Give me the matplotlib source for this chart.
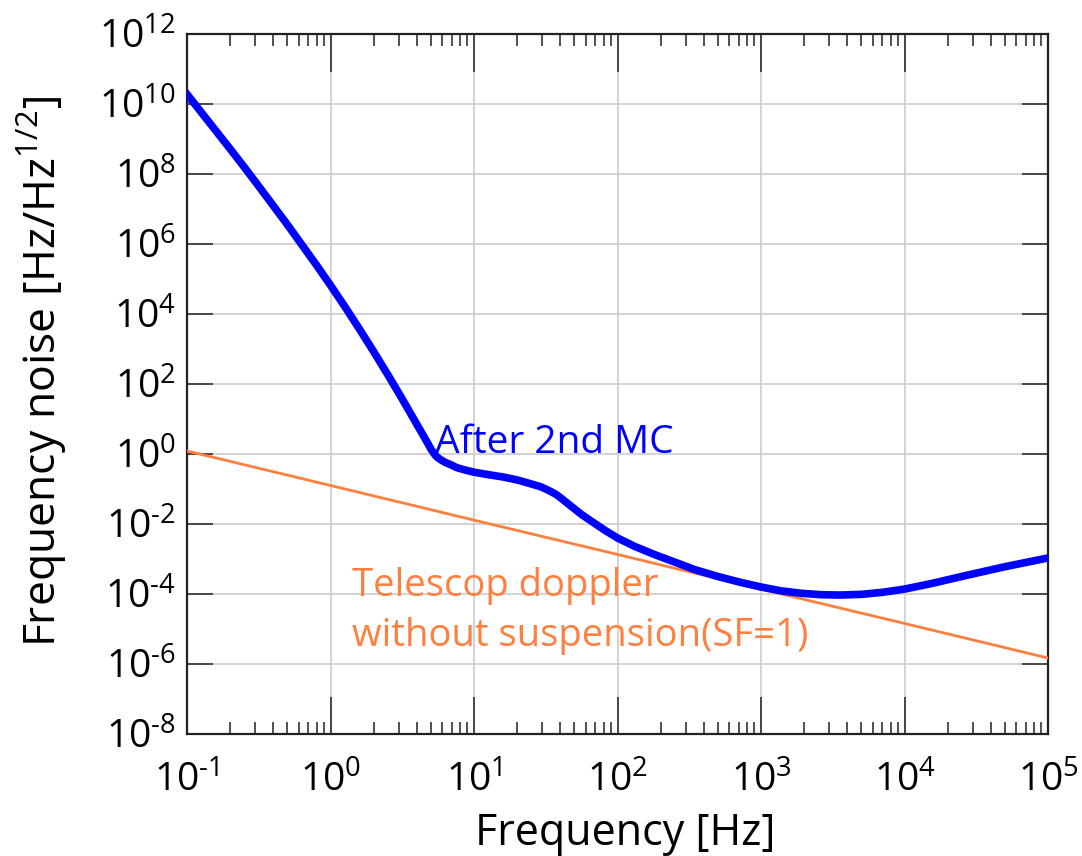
import numpy as np
import matplotlib
matplotlib.use("Agg")
import matplotlib.pyplot as plt
from matplotlib.ticker import LogLocator, FixedLocator, NullLocator

# ---- data (log10 units) ----
blue_logf = [-1.0, -0.9, -0.8, -0.7, -0.6, -0.5, -0.4, -0.3, -0.2, -0.1, 0.0,
             0.1, 0.2, 0.3, 0.4, 0.5, 0.6, 0.68, 0.70, 0.72,
             0.74, 0.77, 0.80, 0.84, 0.88, 0.94, 1.0, 1.1, 1.207, 1.3, 1.394, 1.46,
             1.5, 1.534, 1.57, 1.6, 1.64, 1.673, 1.75, 1.836, 1.92, 2.0, 2.12, 2.256,
             2.4, 2.536, 2.7, 2.85, 3.0, 3.14, 3.28, 3.42, 3.55, 3.7, 3.85, 4.0, 4.2,
             4.44, 4.7, 5.0]
blue_logy = [10.28, 9.76, 9.24, 8.72, 8.19, 7.65, 7.10, 6.55, 5.98, 5.41, 4.82,
             4.21, 3.58, 2.93, 2.26, 1.57, 0.86, 0.29, 0.14, 0.02,
             -0.08, -0.17, -0.24, -0.31, -0.39, -0.46, -0.52, -0.59, -0.66, -0.74, -0.85, -0.93,
             -1.00, -1.07, -1.15, -1.24, -1.37, -1.48, -1.73, -1.97, -2.20, -2.40, -2.64, -2.87,
             -3.09, -3.30, -3.50, -3.66, -3.80, -3.91, -3.98, -4.02, -4.03, -4.01, -3.95, -3.86, -3.69,
             -3.46, -3.22, -2.97]
orange_f = [0.1, 1, 10, 100, 1e3, 1e4, 1e5]
orange_y = [1.22, 0.126, 0.0129, 1.35e-3, 1.38e-4, 1.44e-5, 1.48e-6]

x_exps = [-1, 0, 1, 2, 3, 4, 5]
y_exps = [-8, -6, -4, -2, 0, 2, 4, 6, 8, 10, 12]

blue_f = [10 ** v for v in blue_logf]
blue_y = [10 ** v for v in blue_logy]

plt.rcParams['font.family'] = ['Open Sans', 'DejaVu Sans']
plt.rcParams['mathtext.fontset'] = 'custom'
plt.rcParams['mathtext.rm'] = 'Open Sans'
plt.rcParams['mathtext.it'] = 'Open Sans'
plt.rcParams['mathtext.default'] = 'rm'

BLUE = '#0000FF'
ORANGE = '#FF7F3F'

fig = plt.figure(figsize=(10.82, 8.56), dpi=100)
ax = fig.add_axes([187/1082, 1-734/856, (1048-187)/1082, (734-34)/856])

ax.plot(orange_f, orange_y, color=ORANGE, lw=2.0, zorder=3)
ax.plot(blue_f, blue_y, color=BLUE, lw=5.5, zorder=4, solid_joinstyle='round')

ax.set_xscale('log')
ax.set_yscale('log')
ax.set_xlim(0.1, 1e5)
ax.set_ylim(1e-8, 1e12)

ax.xaxis.set_major_locator(FixedLocator([10.0 ** k for k in x_exps]))
ax.xaxis.set_minor_locator(LogLocator(base=10, subs=np.arange(2, 10), numticks=20))
ax.yaxis.set_major_locator(FixedLocator([10.0 ** k for k in y_exps]))
ax.yaxis.set_minor_locator(NullLocator())


def lab(k):
    if k < 0:
        return r'$10^{\text{-}%d}$' % (-k)
    return r'$10^{%d}$' % k


ax.set_xticklabels([lab(k) for k in x_exps])
ax.set_yticklabels([lab(k) for k in y_exps])

ax.grid(True, which='major', color='#cccccc', lw=1.2, zorder=0)
ax.set_axisbelow(True)

ax.tick_params(axis='both', which='both', direction='in', top=True, right=True,
               width=1.1, color='#222222')
ax.tick_params(axis='x', which='major', length=27, labelsize=28, pad=20)
ax.tick_params(axis='x', which='minor', length=8.5)
ax.tick_params(axis='y', which='major', length=19, labelsize=28, pad=8)
for s in ax.spines.values():
    s.set_linewidth(1.6)
    s.set_color('#222222')

fig.text(625/1082, 1-845/856, 'Frequency [Hz]', fontsize=31, ha='center', va='baseline')
fig.text(42/1082, 1-372/856, r'Frequency noise [Hz/Hz$^{1/2}$]', fontsize=32,
         rotation=90, ha='center', va='center')

ax.text(5.36, 1.07, 'After 2nd MC', color=BLUE, fontsize=28, ha='left', va='baseline')
ax.text(1.41, 10 ** -4.07, 'Telescop doppler', color=ORANGE, fontsize=27.5,
        ha='left', va='baseline')
ax.text(1.41, 10 ** -5.50, 'without suspension(SF=1)', color=ORANGE, fontsize=27.5,
        ha='left', va='baseline')

fig.savefig('out.png', dpi=100)
